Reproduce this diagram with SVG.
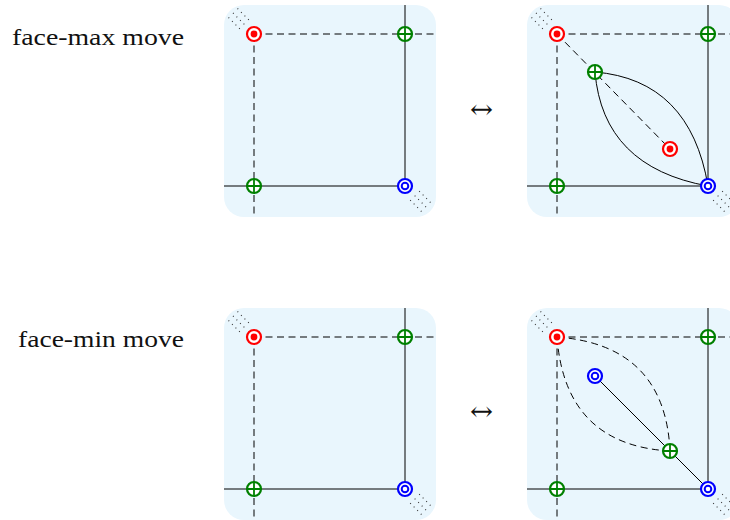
<svg xmlns="http://www.w3.org/2000/svg" xmlns:xlink="http://www.w3.org/1999/xlink" width="730" height="520" viewBox="0 0 730 520">
<style>
.panel{fill:#e9f6fd;stroke:none}
.ln{stroke:#000;stroke-width:1;fill:none}
.dash{stroke:#000;stroke-width:1;fill:none;stroke-dasharray:7 4.5}
.dots{stroke:#333;stroke-width:1.1;fill:none;stroke-dasharray:1 4}
.lbl{font-family:"Liberation Serif","Times New Roman",serif;font-size:24px;fill:#111}
.arr{font-family:"DejaVu Serif","DejaVu Sans",serif;font-size:26px;fill:#111}
</style>
<defs>
<g id="red">
<circle r="7" fill="#fff" stroke="#f00" stroke-width="2.2"/>
<circle r="3.4" fill="#f00"/>
</g>
<g id="green">
<circle r="7" fill="#fff" stroke="#008000" stroke-width="2.2"/>
<path d="M-7 0H7M0 -7V7" stroke="#008000" stroke-width="1.8"/>
</g>
<g id="blue">
<circle r="7" fill="#fff" stroke="#00f" stroke-width="2.2"/>
<circle r="3.3" fill="#fff" stroke="#00f" stroke-width="2"/>
</g>
<g id="corner">
<path class="dots" d="M-21 -21L-9 -9M-16.5 -25.5L-5 -14M-25.5 -16.5L-14 -5"/>
</g>
</defs>

<text class="lbl" x="12" y="45" textLength="172" lengthAdjust="spacingAndGlyphs">face-max move</text>
<text class="lbl" x="18" y="347" textLength="166" lengthAdjust="spacingAndGlyphs">face-min move</text>
<text class="arr" x="470" y="118" textLength="23" lengthAdjust="spacingAndGlyphs">↔</text>
<text class="arr" x="470" y="420" textLength="23" lengthAdjust="spacingAndGlyphs">↔</text>

<rect class="panel" x="224" y="5" width="212" height="212" rx="20"/>
<rect class="panel" x="527" y="5" width="212" height="212" rx="20"/>
<rect class="panel" x="224" y="308" width="212" height="212" rx="20"/>
<rect class="panel" x="527" y="308" width="212" height="212" rx="20"/>

<g id="connectors">
<path class="dash" d="M254 34H436M254 34V217"/>
<path class="ln" d="M405 5V186M224 186H405"/>
<path class="dash" d="M557 34H730M557 34V217"/>
<path class="ln" d="M708 5V186M527 186H708"/>
<path class="dash" d="M557 34L670 149"/>
<path class="ln" d="M595 72Q690 80 708 186M595 72Q603 167 708 186"/>
<path class="dash" d="M254 337H436M254 337V520"/>
<path class="ln" d="M405 308V489M224 489H405"/>
<path class="dash" d="M557 337H730M557 337V520"/>
<path class="ln" d="M708 308V489M527 489H708"/>
<path class="ln" d="M595 376L708 489"/>
<path class="dash" d="M557 337Q665 345 670 451M557 337Q565 445 670 451"/>
</g>

<use xlink:href="#corner" x="254" y="34"/>
<use xlink:href="#corner" transform="translate(405 186) rotate(180)"/>
<use xlink:href="#corner" x="557" y="34"/>
<use xlink:href="#corner" transform="translate(708 186) rotate(180)"/>
<use xlink:href="#corner" x="254" y="337"/>
<use xlink:href="#corner" transform="translate(405 489) rotate(180)"/>
<use xlink:href="#corner" x="557" y="337"/>
<use xlink:href="#corner" transform="translate(708 489) rotate(180)"/>

<g id="tl-red"><use xlink:href="#red" x="254" y="34"/></g>
<g id="tl-green-tr"><use xlink:href="#green" x="405" y="34"/></g>
<g id="tl-green-bl"><use xlink:href="#green" x="254" y="186"/></g>
<g id="tl-blue"><use xlink:href="#blue" x="405" y="186"/></g>

<g id="tr-red"><use xlink:href="#red" x="557" y="34"/></g>
<g id="tr-green-tr"><use xlink:href="#green" x="708" y="34"/></g>
<g id="tr-green-bl"><use xlink:href="#green" x="557" y="186"/></g>
<g id="tr-blue"><use xlink:href="#blue" x="708" y="186"/></g>
<g id="tr-green-mid"><use xlink:href="#green" x="595" y="72"/></g>
<g id="tr-red-mid"><use xlink:href="#red" x="670" y="149"/></g>

<g id="bl-red"><use xlink:href="#red" x="254" y="337"/></g>
<g id="bl-green-tr"><use xlink:href="#green" x="405" y="337"/></g>
<g id="bl-green-bl"><use xlink:href="#green" x="254" y="489"/></g>
<g id="bl-blue"><use xlink:href="#blue" x="405" y="489"/></g>

<g id="br-red"><use xlink:href="#red" x="557" y="337"/></g>
<g id="br-green-tr"><use xlink:href="#green" x="708" y="337"/></g>
<g id="br-green-bl"><use xlink:href="#green" x="557" y="489"/></g>
<g id="br-blue"><use xlink:href="#blue" x="708" y="489"/></g>
<g id="br-blue-mid"><use xlink:href="#blue" x="595" y="376"/></g>
<g id="br-green-mid"><use xlink:href="#green" x="670" y="451"/></g>
</svg>
